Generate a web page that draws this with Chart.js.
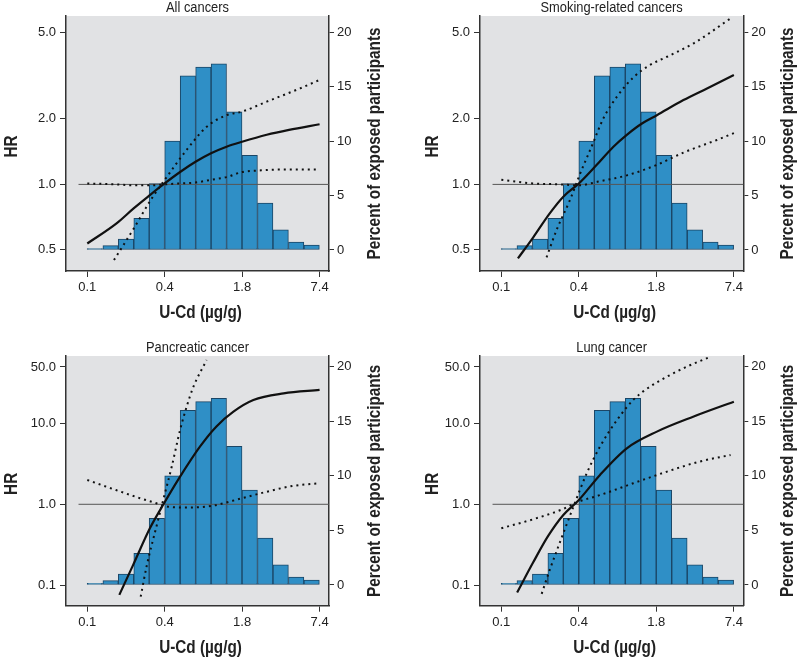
<!DOCTYPE html>
<html>
<head>
<meta charset="utf-8">
<script src="https://cdn.jsdelivr.net/npm/chart.js@4.4.1/dist/chart.umd.min.js"></script>
<style>
  body { margin: 0; background: #fff; }
  canvas { position: absolute; }
</style>
</head>
<body>
<canvas id="c1" width="400" height="328" style="left:0;top:0"></canvas>
<canvas id="c2" width="400" height="328" style="left:400px;top:0"></canvas>
<canvas id="c3" width="400" height="329" style="left:0;top:328px"></canvas>
<canvas id="c4" width="400" height="329" style="left:400px;top:328px"></canvas>
<script>
"use strict";

// histogram of U-Cd (bin mid points, µg/g) and share of participants (%)
const binMids = [0.115, 0.154, 0.205, 0.273, 0.363, 0.484, 0.645, 0.859, 1.144, 1.524, 2.029, 2.703, 3.600, 4.796, 6.388];
const pctShare = [0.14, 0.4, 1.0, 2.9, 6.1, 10.0, 16.0, 16.8, 17.1, 12.7, 8.7, 4.3, 1.85, 0.72, 0.45];

// tick labels
const uTickVals = [0.1, 0.42, 1.76, 7.4];
const uTickText = ['0.1', '0.4', '1.8', '7.4'];
const hrTicksTop = [0.5, 1.0, 2.0, 5.0];
const hrTicksBottom = [0.1, 1.0, 10.0, 50.0];
const pctTicks = [0, 5, 10, 15, 20];

// HR = 1 reference
const refLine = [[0.085, 1], [9, 1]];

// all cancers: [U-Cd, HR]
const allEst = [[0.1,0.535],[0.172,0.662],[0.236,0.776],[0.319,0.893],[0.419,1.01],[0.558,1.14],[0.743,1.27],[0.99,1.39],[1.32,1.49],[1.76,1.57],[2.78,1.69],[4.2,1.78],[7.4,1.89]];
const allLo = [[0.1,1.01],[0.172,1.0],[0.236,0.99],[0.33,0.99],[0.419,1.0],[0.558,1.01],[0.743,1.02],[0.99,1.05],[1.32,1.08],[1.76,1.14],[2.5,1.16],[3.5,1.17],[7.4,1.17]];
const allHi = [[0.164,0.449],[0.234,0.621],[0.33,0.862],[0.435,1.08],[0.63,1.44],[0.913,1.84],[1.32,2.08],[1.76,2.16],[2.78,2.40],[5.15,2.76],[7.4,3.02]];

// smoking-related cancers
const smkEst = [[0.136,0.457],[0.18,0.57],[0.245,0.736],[0.315,0.878],[0.42,1.01],[0.585,1.23],[0.796,1.49],[1.02,1.69],[1.36,1.91],[1.78,2.08],[2.91,2.44],[4.5,2.76],[7.4,3.18]];
const smkLo = [[0.1,1.05],[0.18,1.01],[0.3,1.0],[0.42,0.99],[0.6,1.03],[1.02,1.10],[1.78,1.23],[2.91,1.40],[5.4,1.6],[7.4,1.72]];
const smkHi = [[0.231,0.462],[0.278,0.617],[0.356,0.847],[0.43,1.12],[0.531,1.49],[0.661,2.01],[0.85,2.53],[1.15,3.10],[1.57,3.54],[2.15,3.86],[3.52,4.45],[6.96,5.79]];

// pancreatic cancer
const panEst = [[0.181,0.0757],[0.234,0.178],[0.319,0.505],[0.41,1.0],[0.558,2.2],[0.806,5.17],[1.09,9.14],[1.5,14.0],[2.17,19.5],[3.8,23.6],[7.4,26]];
const panLo = [[0.1,2.0],[0.17,1.5],[0.265,1.19],[0.36,1.03],[0.42,0.95],[0.63,0.91],[1.02,0.96],[1.76,1.19],[2.78,1.43],[4.54,1.69],[7.4,1.82]];
const panHi = [[0.269,0.072],[0.30,0.17],[0.36,0.53],[0.40,1.0],[0.478,2.92],[0.558,8.3],[0.63,16.1],[0.715,28.6],[0.913,61]];

// lung cancer
const lngEst = [[0.134,0.081],[0.18,0.19],[0.238,0.406],[0.315,0.738],[0.42,1.13],[0.621,2.31],[1.02,4.93],[1.78,7.93],[3.52,12.2],[7.4,18.6]];
const lngLo = [[0.1,0.505],[0.18,0.652],[0.3,0.85],[0.42,1.08],[0.621,1.3],[1.15,1.82],[2.15,2.54],[3.9,3.37],[6.96,4.08]];
const lngHi = [[0.211,0.078],[0.245,0.154],[0.315,0.438],[0.38,0.935],[0.486,2.42],[0.621,5.17],[0.85,11.0],[1.15,19.6],[1.57,28.6],[2.15,38],[3.11,50.6],[4.79,67]];

const FONT = "'Liberation Sans', Arial, sans-serif";
const INK = '#222';

function pts(arr) { return arr.map(d => ({ x: d[0], y: d[1] })); }

function lineSet(arr, color, width, dash, order) {
  return {
    type: 'line', data: pts(arr), yAxisID: 'y',
    borderColor: color, borderWidth: width, borderDash: dash,
    pointRadius: 0, fill: false, tension: 0.4, cubicInterpolationMode: 'monotone', order: order
  };
}

const bgPlugin = {
  id: 'plotBg',
  beforeDraw(chart) {
    const { ctx, chartArea: a } = chart;
    ctx.save();
    ctx.fillStyle = '#e1e2e4';
    ctx.fillRect(a.left, a.top, a.right - a.left, a.bottom - a.top);
    ctx.restore();
  }
};

// condensed look: squeeze text horizontally
function label(ctx, text, x, y, rot, font, sx) {
  ctx.save();
  ctx.translate(x, y);
  ctx.rotate(rot);
  ctx.scale(sx, 1);
  ctx.font = font;
  ctx.fillStyle = INK;
  ctx.textAlign = 'center';
  ctx.textBaseline = 'middle';
  ctx.fillText(text, 0, 0);
  ctx.restore();
}

function titles(p) {
  return {
    id: 'panelTitles',
    afterDraw(chart) {
      const { ctx, chartArea: a } = chart;
      const cx = (a.left + a.right) / 2, cy = (a.top + a.bottom) / 2;
      label(ctx, p.title, cx, a.top - 8.3, 0, "15.5px " + FONT, 0.83);
      label(ctx, 'HR', p.hrX, cy + 3, -Math.PI / 2, "bold 18px " + FONT, 0.85);
      label(ctx, 'U-Cd (µg/g)', cx + 3, p.xtY, 0, "bold 18px " + FONT, 0.85);
      label(ctx, 'Percent of exposed participants', p.rtX, cy, -Math.PI / 2, "bold 18px " + FONT, 0.85);
    }
  };
}

function makePanel(p) {
  const tickFont = { family: FONT, size: 13 };
  const grid = { drawOnChartArea: false, drawTicks: true, tickLength: 6, color: '#333', lineWidth: 1, offset: false };
  const border = { display: true, color: '#333', width: 1.5 };

  return new Chart(document.getElementById(p.id), {
    type: 'line',
    data: {
      datasets: [
        {
          type: 'bar', yAxisID: 'y2',
          data: binMids.map((x, i) => ({ x: x, y: pctShare[i] })),
          backgroundColor: '#2f8fc6', borderColor: '#1b4666', borderWidth: 1, borderSkipped: false,
          barPercentage: 1, categoryPercentage: 1, order: 5
        },
        lineSet(refLine, '#555', 1, [], 2),
        lineSet(p.est, '#111', 2.2, [], 1),
        lineSet(p.lo, '#111', 2, [2, 4], 1),
        lineSet(p.hi, '#111', 2, [2, 4], 1)
      ]
    },
    options: {
      responsive: false, animation: false, events: [],
      layout: { padding: { top: p.T, left: 0, right: 0, bottom: 0 } },
      plugins: {
        legend: { display: false },
        tooltip: { enabled: false },
        title: { display: false }
      },
      scales: {
        x: {
          type: 'logarithmic', min: 0.0674, max: 8.81, offset: false,
          afterFit(s) { s.height = p.h - p.B; },
          afterBuildTicks(s) { s.ticks = uTickVals.map(v => ({ value: v })); },
          ticks: { callback: (v, i) => uTickText[i], color: INK, font: tickFont, padding: 3, maxRotation: 0, autoSkip: false },
          grid: grid, border: border
        },
        y: {
          type: 'logarithmic', position: 'left', min: p.hrMin, max: p.hrMax,
          afterFit(s) { s.width = p.L; },
          afterBuildTicks(s) { s.ticks = p.hrTicks.map(v => ({ value: v })); },
          ticks: { callback: v => Number(v).toFixed(1), color: INK, font: tickFont, padding: 4, autoSkip: false },
          grid: grid, border: border
        },
        y2: {
          type: 'linear', position: 'right', min: p.pMin, max: p.pMax,
          afterFit(s) { s.width = p.w - p.R; },
          afterBuildTicks(s) { s.ticks = pctTicks.map(v => ({ value: v })); },
          ticks: { color: INK, font: tickFont, padding: 3, autoSkip: false },
          grid: Object.assign({}, grid, { tickLength: 5 }), border: border
        }
      }
    },
    plugins: [bgPlugin, titles(p)]
  });
}

makePanel({ id: 'c1', title: 'All cancers', w: 400, h: 328, L: 66, R: 329, T: 16, B: 271,
  hrMin: 0.4, hrMax: 5.94, hrTicks: hrTicksTop, pMin: -1.93, pMax: 21.5,
  est: allEst, lo: allLo, hi: allHi, hrX: 11.7, xtY: 313.3, rtX: 375 });

makePanel({ id: 'c2', title: 'Smoking-related cancers', w: 400, h: 328, L: 80, R: 343.3, T: 16, B: 271,
  hrMin: 0.4, hrMax: 5.94, hrTicks: hrTicksTop, pMin: -1.93, pMax: 21.5,
  est: smkEst, lo: smkLo, hi: smkHi, hrX: 33.3, xtY: 313.3, rtX: 388.3 });

makePanel({ id: 'c3', title: 'Pancreatic cancer', w: 400, h: 329, L: 66, R: 329, T: 28, B: 277.7,
  hrMin: 0.0556, hrMax: 68.4, hrTicks: hrTicksBottom, pMin: -1.9, pMax: 20.98,
  est: panEst, lo: panLo, hi: panHi, hrX: 11.7, xtY: 320.3, rtX: 375 });

makePanel({ id: 'c4', title: 'Lung cancer', w: 400, h: 329, L: 80, R: 343.3, T: 28, B: 277.7,
  hrMin: 0.0556, hrMax: 68.4, hrTicks: hrTicksBottom, pMin: -1.9, pMax: 20.98,
  est: lngEst, lo: lngLo, hi: lngHi, hrX: 33.3, xtY: 320.3, rtX: 388.3 });
</script>
</body>
</html>
